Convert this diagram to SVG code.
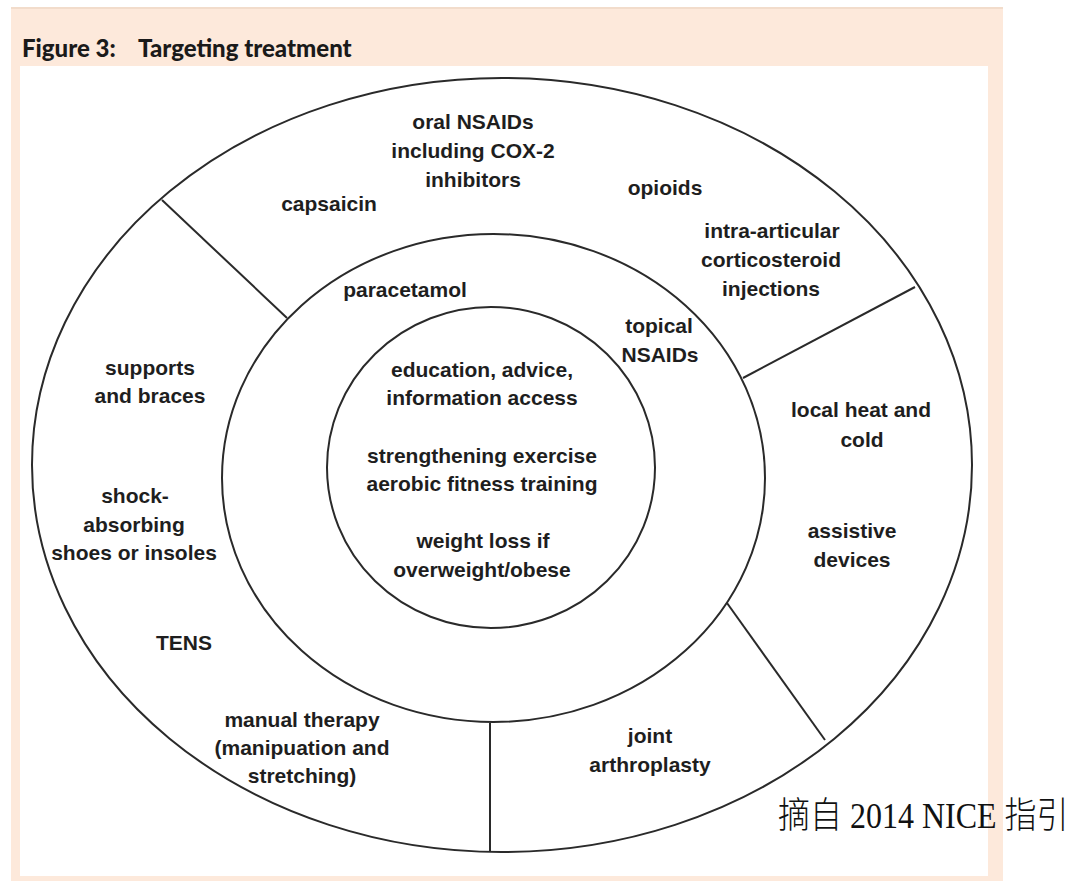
<svg xmlns="http://www.w3.org/2000/svg" width="1069" height="881" viewBox="0 0 1069 881">
<style>
.ring{fill:none;stroke:#2a2a2a;stroke-width:2}
.div{stroke:#2a2a2a;stroke-width:2}
.t{font-family:"Liberation Sans",Arial,sans-serif;font-weight:bold;font-size:21px;fill:#1e1e1e;text-anchor:middle}
.title{font-family:Lato,"Liberation Sans",sans-serif;font-weight:900;font-size:24px;fill:#1a1a1a}
</style>
<rect x="0" y="0" width="1069" height="881" fill="#ffffff"/>
<rect id="panel" x="11" y="8" width="992" height="873" fill="#fde9db"/>
<rect x="11" y="7" width="992" height="2" fill="#f2dccb"/>
<rect id="canvas" x="20" y="66" width="968" height="810" fill="#ffffff"/>
<g id="title">
<text class="title" x="22" y="57">Figure 3:</text>
<text class="title" x="138" y="57">Targeting treatment</text>
</g>
<g id="outer-ring">
<ellipse class="ring" cx="502" cy="465" rx="470" ry="387"/>
</g>
<g id="middle-ring">
<ellipse class="ring" cx="493.5" cy="478" rx="271.5" ry="244"/>
</g>
<g id="inner-circle">
<ellipse class="ring" cx="491" cy="467.5" rx="164" ry="160.5"/>
<text class="t" x="482" y="377">education, advice,</text>
<text class="t" x="482" y="405">information access</text>
<text class="t" x="482" y="463">strengthening exercise</text>
<text class="t" x="482" y="491">aerobic fitness training</text>
<text class="t" x="483" y="548">weight loss if</text>
<text class="t" x="482" y="577">overweight/obese</text>
</g>
<g id="connectors">
<line class="div" x1="162" y1="200" x2="287" y2="318"/>
<line class="div" x1="915" y1="287" x2="743" y2="378"/>
<line class="div" x1="727" y1="603" x2="825" y2="740"/>
<line class="div" x1="490" y1="723" x2="490" y2="851"/>
</g>
<g id="middle-labels">
<text class="t" x="405" y="297">paracetamol</text>
<text class="t" x="659" y="333">topical</text>
<text class="t" x="660" y="362">NSAIDs</text>
</g>
<g id="outer-top">
<text class="t" x="473" y="129">oral NSAIDs</text>
<text class="t" x="473" y="158">including COX-2</text>
<text class="t" x="473" y="187">inhibitors</text>
<text class="t" x="329" y="211">capsaicin</text>
<text class="t" x="665" y="195">opioids</text>
<text class="t" x="772" y="238">intra-articular</text>
<text class="t" x="771" y="267">corticosteroid</text>
<text class="t" x="771" y="296">injections</text>
</g>
<g id="outer-right">
<text class="t" x="861" y="417">local heat and</text>
<text class="t" x="862" y="447">cold</text>
<text class="t" x="852" y="538">assistive</text>
<text class="t" x="852" y="567">devices</text>
</g>
<g id="outer-bottom">
<text class="t" x="650" y="743">joint</text>
<text class="t" x="650" y="772">arthroplasty</text>
</g>
<g id="outer-left">
<text class="t" x="150" y="375">supports</text>
<text class="t" x="150" y="403">and braces</text>
<text class="t" x="135" y="503">shock-</text>
<text class="t" x="134" y="532">absorbing</text>
<text class="t" x="134" y="560">shoes or insoles</text>
<text class="t" x="184" y="650">TENS</text>
<text class="t" x="302" y="727">manual therapy</text>
<text class="t" x="302" y="755">(manipuation and</text>
<text class="t" x="302" y="783">stretching)</text>
</g>
<g id="source">
<text transform="translate(778,828) scale(1,1.15)" x="0" y="0" font-family="'Liberation Serif','Noto Sans CJK SC',serif" font-size="32" font-weight="300" fill="#111">摘自 2014 NICE 指引</text>
</g>
</svg>
